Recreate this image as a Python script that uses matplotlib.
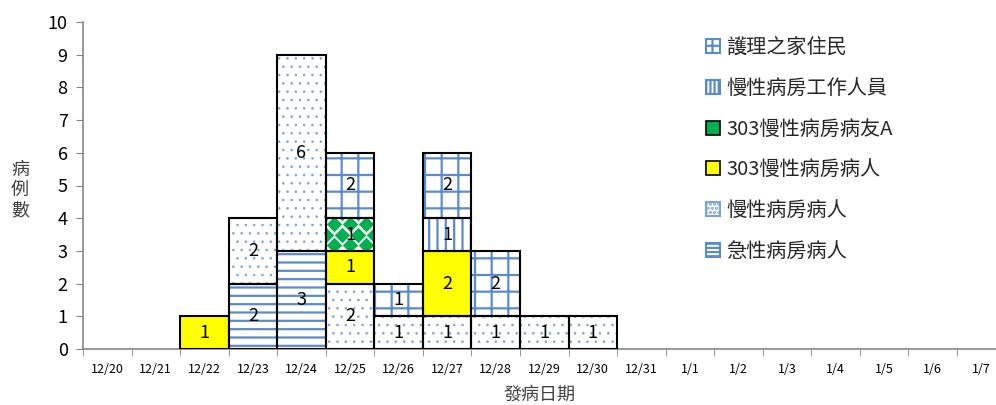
import numpy as np
import matplotlib
matplotlib.use("Agg")
import matplotlib.pyplot as plt
from matplotlib.patches import Patch

plt.rcParams['font.family'] = ['Noto Sans CJK TC', 'DejaVu Sans']

dates = ['12/20', '12/21', '12/22', '12/23', '12/24', '12/25', '12/26', '12/27',
         '12/28', '12/29', '12/30', '12/31', '1/1', '1/2', '1/3', '1/4', '1/5',
         '1/6', '1/7']

acute = [0, 0, 0, 2, 3, 0, 0, 0, 0, 0, 0, 0, 0, 0, 0, 0, 0, 0, 0]
chronic = [0, 0, 0, 2, 6, 2, 1, 1, 1, 1, 1, 0, 0, 0, 0, 0, 0, 0, 0]
ward303 = [0, 0, 1, 0, 0, 1, 0, 2, 0, 0, 0, 0, 0, 0, 0, 0, 0, 0, 0]
friend_a = [0, 0, 0, 0, 0, 1, 0, 0, 0, 0, 0, 0, 0, 0, 0, 0, 0, 0, 0]
staff = [0, 0, 0, 0, 0, 0, 0, 1, 0, 0, 0, 0, 0, 0, 0, 0, 0, 0, 0]
nursing = [0, 0, 0, 0, 0, 2, 1, 2, 2, 0, 0, 0, 0, 0, 0, 0, 0, 0, 0]

BLUE = '#5b8bcb'
DOT = '#7aa3d8'
GREEN = '#00b050'

# name, values, face, hatch colour, hatch, hatch linewidth  (bottom -> top)
series = [
    ('急性病房病人', acute, 'white', BLUE, '--', 1.6),
    ('慢性病房病人', chronic, 'white', DOT, '..', 0.6),
    ('303慢性病房病人', ward303, '#ffff00', None, None, 1.0),
    ('303慢性病房病友A', friend_a, 'white', GREEN, 'diamond', 1.0),
    ('慢性病房工作人員', staff, 'white', BLUE, '||', 1.6),
    ('護理之家住民', nursing, 'white', BLUE, '+', 1.6),
]

fig = plt.figure(figsize=(9.96, 4.05), dpi=100)
ax = fig.add_axes([83 / 996, 56 / 405, 922.5 / 996, 327 / 405])

x = np.arange(len(dates))
bottom = np.zeros(len(dates))
handles = []
for name, vals, face, hcol, hatch, hlw in series:
    plt.rcParams['hatch.linewidth'] = hlw
    vals = np.array(vals, dtype=float)
    mask = vals > 0
    if hatch is not None and hatch != 'diamond':
        ax.bar(x[mask], vals[mask], bottom=bottom[mask], width=1.0,
               color=face, edgecolor=hcol, hatch=hatch, linewidth=0, zorder=2)
    else:
        ax.bar(x[mask], vals[mask], bottom=bottom[mask], width=1.0,
               color=face, linewidth=0, zorder=2)
    outl = ax.bar(x[mask], vals[mask], bottom=bottom[mask], width=1.0,
                  fill=False, edgecolor='black', linewidth=1.5, zorder=4)
    if hatch == 'diamond':
        # checkerboard of green diamonds, clipped to the segment
        for rect, xi, b, v in zip(outl.patches, x[mask], bottom[mask], vals[mask]):
            rows = int(round(v * 3))
            for j in range(rows + 1):
                yy = b + j / 3.0 + 1 / 6.0
                if j % 2 == 0:
                    xs = xi - 0.5 + np.array([1, 3, 5]) / 6.0
                else:
                    xs = xi - 0.5 + np.array([0, 2, 4, 6]) / 6.0
                sc = ax.scatter(xs, np.full(len(xs), yy), marker='D', s=62,
                                color=GREEN, linewidths=0, zorder=3)
                sc.set_clip_path(rect)
    for xi, b, v in zip(x[mask], bottom[mask], vals[mask]):
        ax.text(xi, b + v / 2, f'{int(v)}', ha='center', va='center',
                fontsize=13, color='black', zorder=5)
    bottom = bottom + vals

    plt.rcParams['hatch.linewidth'] = 1.2
    if hatch == 'diamond':
        h = Patch(facecolor=GREEN, edgecolor='black', linewidth=1.2)
    elif hatch is None:
        h = Patch(facecolor=face, edgecolor='black', linewidth=1.2)
    else:
        h = Patch(facecolor=face, edgecolor=hcol, hatch=hatch * 2, linewidth=1.5)
    handles.append((h, name))

plt.rcParams['hatch.linewidth'] = 1.6
ax.set_xlim(-0.5, len(dates) - 0.5)
ax.set_ylim(0, 10)
ax.set_yticks(range(0, 11))
ax.set_xticks(x)
ax.set_xticklabels(dates, fontsize=9)
ax.set_xticks(np.arange(-0.5, len(dates), 1.0), minor=True)
ax.tick_params(axis='x', which='major', length=0, pad=10, colors='black')
ax.tick_params(axis='x', which='minor', length=5, color='#868686', direction='out')
ax.tick_params(axis='y', length=5, color='#868686', labelsize=13, pad=6)
for s in ['top', 'right']:
    ax.spines[s].set_visible(False)
for s in ['left', 'bottom']:
    ax.spines[s].set_color('#868686')
    ax.spines[s].set_linewidth(1.2)

fig.text(20 / 996, 1 - 190 / 405, '病\n例\n數', ha='center', va='center',
         fontsize=13, color='#404040', linespacing=1.15)
fig.text(540 / 996, 1 - 395 / 405, '發病日期', ha='center', va='center',
         fontsize=13, color='#404040')

handles = handles[::-1]
ax.legend([h for h, _ in handles], [n for _, n in handles],
          loc='upper left', bbox_to_anchor=(688 / 996, 1 - 19 / 405),
          bbox_transform=fig.transFigure, frameon=False, fontsize=14.5,
          labelspacing=0.98, handlelength=0.7, handleheight=0.7,
          handletextpad=0.3, labelcolor='#262626')

fig.savefig('out.png', dpi=100)
